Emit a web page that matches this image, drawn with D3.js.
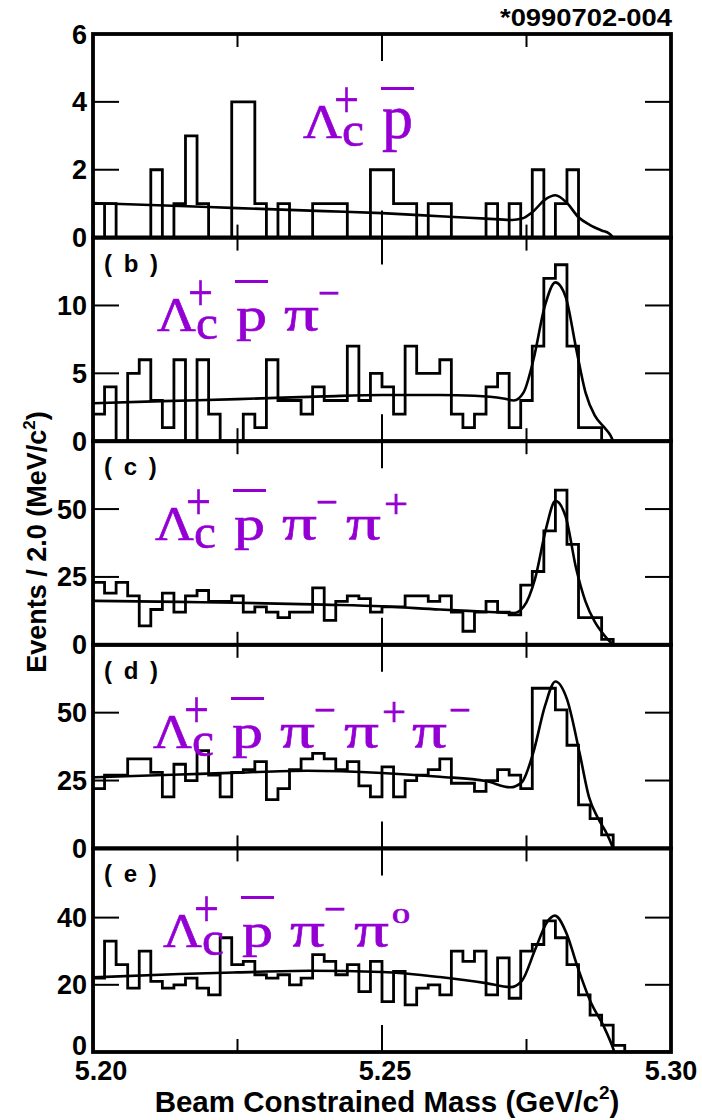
<!DOCTYPE html>
<html><head><meta charset="utf-8">
<script src="https://cdn.jsdelivr.net/npm/d3@7/dist/d3.min.js"></script>
<style>
html,body{margin:0;padding:0;background:#fff;}
svg{display:block;}
</style></head>
<body>
<svg id="chart" width="702" height="1120"></svg>
<script>
// ---------------- data ----------------
const binStart = 5.200;
const binWidth = 0.002;
const xTickLabels = ["5.20", "5.25", "5.30"];
const xTickValues = [5.20, 5.25, 5.30];
const panelIds = ["", "( b )", "( c )", "( d )", "( e )"];
const yMaxes = [6, 15, 75, 75, 60.6];
const yTicks = [[0, 2, 4, 6], [0, 5, 10], [0, 25, 50], [0, 25, 50], [0, 20, 40]];

const countsA = [1,1,0,0,0,2,0,1,3,1, 0,0,4,4,1,0,1,0,0,1, 1,1,0,0,2,2,1,1,0,1, 1,0,0,0,1,0,1,0,2,0, 1,2,0,0,0,0,0,0,0,0];
const countsB = [2,4,0,5,6,3,1,6,0,6, 2,0,0,2,1,6,3,3,2,4, 3,3,7,3,5,4,2,7,5,5, 6,2,1,2,4,5,1,3,7,12, 13,7,1,1,0,0,0,0,0,0];
const countsC = [23,19,23,18,7,13,19,12,18,20, 16,16,18,12,14,12,10,12,12,21, 9,16,18,17,12,14,14,18,18,16, 18,12,5,12,16,12,11,22,27,42, 57,37,10,10,2,0,0,0,0,0];
const countsD = [22,27,27,33,33,28,19,31,25,36, 27,19,28,29,32,18,22,29,33,35, 33,29,32,23,19,30,19,25,27,29, 33,24,24,21,25,29,27,22,59,59, 51,38,16,11,5,0,0,0,0,0];
const countsE = [22,33,26,19,30,21,19,20,22,19, 17,34,26,27,23,22,23,20,22,29, 27,23,26,18,27,15,24,14,19,20, 17,30,27,30,17,28,16,30,32,39, 34,26,17,11,8,2,0,0,0,0];

// fit curves: [mass, events]
const fitA = [[5.200,1.02],[5.215,0.93],[5.225,0.87],[5.240,0.78],[5.250,0.72],[5.260,0.63],[5.268,0.56],[5.2725,0.52],[5.2742,0.56],[5.2762,0.78],[5.2782,1.12],[5.2800,1.25],[5.2820,1.02],[5.2840,0.6],[5.2860,0.37],[5.2880,0.21],[5.2893,0.12],[5.2900,0]];
const fitB = [[5.200,2.8],[5.212,2.95],[5.225,3.1],[5.240,3.3],[5.250,3.4],[5.260,3.4],[5.266,3.35],[5.2710,3.15],[5.2728,3.0],[5.2745,3.6],[5.2762,6.0],[5.2782,10.0],[5.2800,11.7],[5.2818,10.6],[5.2836,6.8],[5.2852,3.6],[5.2868,1.9],[5.2885,1.0],[5.2895,0.45],[5.2900,0]];
const fitC = [[5.200,16.2],[5.215,15.8],[5.225,15.5],[5.240,14.8],[5.250,14.2],[5.260,13.0],[5.268,12.2],[5.2728,11.7],[5.2745,14],[5.2765,24.5],[5.2784,43],[5.2800,53],[5.2818,47],[5.2836,28],[5.2852,16],[5.2868,8.5],[5.2885,3.4],[5.2900,0]];
const fitD = [[5.200,26.2],[5.215,27.2],[5.225,27.9],[5.237,28.6],[5.250,27.8],[5.260,26.4],[5.268,24.8],[5.2722,22.5],[5.2742,24.4],[5.2762,35.5],[5.2782,52.5],[5.2800,61.5],[5.2820,55],[5.2842,35],[5.2858,19],[5.2874,11],[5.2889,5.4],[5.2900,0]];
const fitE = [[5.200,22.2],[5.215,23.2],[5.225,23.7],[5.2375,24.2],[5.250,23.8],[5.260,22.3],[5.268,20.5],[5.2722,19.3],[5.2742,21.2],[5.2765,30.5],[5.2786,38.8],[5.2799,40.6],[5.2820,35],[5.2837,26],[5.2862,14.5],[5.2884,7.5],[5.2900,1],[5.2902,0]];

const allCounts = [countsA, countsB, countsC, countsD, countsE];
const allFits = [fitA, fitB, fitC, fitD, fitE];

// -------------- layout --------------
const svg = d3.select("#chart");
const left = 93, right = 671, top0 = 34, bottom = 1052;
const ph = (bottom - top0) / 5;
const x = d3.scaleLinear().domain([5.20, 5.30]).range([left, right]);
const purple = "#9400d3";
const sans = "'Liberation Sans', Arial, Helvetica, sans-serif";
const serif = "'Liberation Serif', 'Times New Roman', serif";

svg.append("defs").append("clipPath").attr("id", "clipAll")
  .append("rect").attr("x", left).attr("y", top0).attr("width", right - left).attr("height", bottom - top0);

allCounts.forEach((counts, p) => {
  const pTop = top0 + p * ph, pBot = pTop + ph;
  const y = d3.scaleLinear().domain([0, yMaxes[p]]).range([pBot, pTop]);
  const g = svg.append("g");

  // histogram step outline
  const pts = [[x(binStart), y(0)]];
  counts.forEach((v, i) => {
    const x0 = x(binStart + i * binWidth), x1 = x(binStart + (i + 1) * binWidth);
    pts.push([x0, y(v)]); pts.push([x1, y(v)]);
  });
  pts.push([x(binStart + counts.length * binWidth), y(0)]);
  g.append("path").attr("d", d3.line()(pts)).attr("fill", "none")
    .attr("stroke", "#000").attr("stroke-width", 2.8).attr("stroke-linejoin", "miter")
    .attr("clip-path", "url(#clipAll)");
  if (p === 0) {
    // divider between the first two bins, as in the original
    g.append("line").attr("x1", x(binStart + binWidth)).attr("x2", x(binStart + binWidth))
      .attr("y1", y(counts[0])).attr("y2", y(0)).attr("stroke", "#000").attr("stroke-width", 2.8);
  }

  // fit curve
  g.append("path").datum(allFits[p])
    .attr("d", d3.line().x(d => x(d[0])).y(d => y(d[1])).curve(d3.curveMonotoneX))
    .attr("fill", "none").attr("stroke", "#000").attr("stroke-width", 2.6)
    .attr("clip-path", "url(#clipAll)");

  // y ticks left and right
  yTicks[p].forEach(t => {
    const yy = y(t);
    if (t !== 0 && t !== yMaxes[p]) {
      g.append("line").attr("x1", left).attr("x2", left + 26).attr("y1", yy).attr("y2", yy).attr("stroke", "#000").attr("stroke-width", 2);
      g.append("line").attr("x1", right - 26).attr("x2", right).attr("y1", yy).attr("y2", yy).attr("stroke", "#000").attr("stroke-width", 2);
    }
    g.append("text").attr("x", 87).attr("y", yy + 9.5 - ((p === 4 && t === 0) ? 7 : 0))
      .attr("text-anchor", "end").attr("font-family", sans).attr("font-weight", "bold")
      .attr("font-size", 27).text(t);
  });

  // x ticks top & bottom
  [[5.225, 13], [5.25, 27], [5.275, 13]].forEach(([v, len]) => {
    g.append("line").attr("x1", x(v)).attr("x2", x(v)).attr("y1", pTop).attr("y2", pTop + len).attr("stroke", "#000").attr("stroke-width", 2);
    g.append("line").attr("x1", x(v)).attr("x2", x(v)).attr("y1", pBot - len).attr("y2", pBot).attr("stroke", "#000").attr("stroke-width", 2);
  });

  // frame
  g.append("rect").attr("x", left).attr("y", pTop).attr("width", right - left).attr("height", ph)
    .attr("fill", "none").attr("stroke", "#000").attr("stroke-width", 3.8);

  // panel id
  if (panelIds[p]) {
    g.append("text").attr("x", 104).attr("y", pTop + 34).attr("font-family", sans)
      .attr("font-weight", "bold").attr("font-size", 24).attr("letter-spacing", 2.5)
      .attr("xml:space", "preserve").text(panelIds[p]);
  }
});

// -------------- decay labels --------------
const decayLabels = [
  { lx: 303, base: 138, pSize: 64, tail: [] },
  { lx: 157, base: 331, pSize: 48, tail: [["π", "pi1"], ["−", "m1"]] },
  { lx: 155, base: 540, pSize: 48, tail: [["π", "pi1"], ["−", "m1"], ["π", "pi2"], ["+", "p2"]] },
  { lx: 153, base: 748, pSize: 48, tail: [["π", "pi1"], ["−", "m1"], ["π", "pi2"], ["+", "p2"], ["π", "pi3"], ["−", "m3"]] },
  { lx: 163, base: 947, pSize: 48, tail: [["π", "pi1"], ["−", "m1"], ["π", "pi2"], ["0", "z2"]] }
];
const off = { pi1: 127, m1: 161, pi2: 191, p2: 229, z2: 229, pi3: 259, m3: 296 };
const gl = svg.append("g").attr("fill", purple).attr("stroke", purple).attr("stroke-width", 0.6);
function glyph(t, xx, yy, size, len) {
  return gl.append("text").attr("x", xx).attr("y", yy).attr("font-family", serif)
    .attr("font-size", size).attr("textLength", len).attr("lengthAdjust", "spacingAndGlyphs").text(t);
}
decayLabels.forEach(L => {
  const X = L.lx, B = L.base;
  glyph("Λ", X, B, 48, 39);
  glyph("+", X + 31, B - 21, 53, 25);
  glyph("c", X + 39, B + 8, 48, 22);
  glyph("p", X + 79, B, L.pSize, 31);
  gl.append("rect").attr("x", X + 78).attr("y", B - 51).attr("width", 33).attr("height", 3).attr("stroke", "none");
  L.tail.forEach(([t, k]) => {
    const xx = X + off[k];
    if (t === "π") glyph(t, xx, B, 50, 35);
    else if (t === "−") glyph(t, xx, B - 23, 44, 22);
    else if (t === "+") glyph(t, xx, B - 22, 42, 24);
    else glyph(t, xx, B - 24, 20, 18);
  });
});

// -------------- axis labels --------------
xTickValues.forEach((v, i) => {
  const cx = i === 0 ? 101 : (i === 1 ? 385 : 671);
  svg.append("text").attr("x", cx).attr("y", 1080).attr("text-anchor", "middle")
    .attr("font-family", sans).attr("font-weight", "bold").attr("font-size", 27).text(xTickLabels[i]);
});
const xt = svg.append("text").attr("x", 387).attr("y", 1112).attr("text-anchor", "middle")
  .attr("font-family", sans).attr("font-weight", "bold").attr("font-size", 29.5);
xt.append("tspan").text("Beam Constrained Mass (GeV/c");
xt.append("tspan").attr("font-size", 19).attr("dy", -13).text("2");
xt.append("tspan").attr("dy", 13).text(")");

const yt = svg.append("text").attr("transform", "translate(46,542) rotate(-90)").attr("text-anchor", "middle")
  .attr("font-family", sans).attr("font-weight", "bold").attr("font-size", 27);
yt.append("tspan").text("Events / 2.0 (MeV/c");
yt.append("tspan").attr("font-size", 17).attr("dy", -11).text("2");
yt.append("tspan").attr("dy", 11).text(")");

svg.append("text").attr("x", 672).attr("y", 26).attr("text-anchor", "end")
  .attr("font-family", sans).attr("font-weight", "bold").attr("font-size", 23)
  .attr("textLength", 172).attr("lengthAdjust", "spacingAndGlyphs").text("*0990702-004");
</script>
</body></html>
